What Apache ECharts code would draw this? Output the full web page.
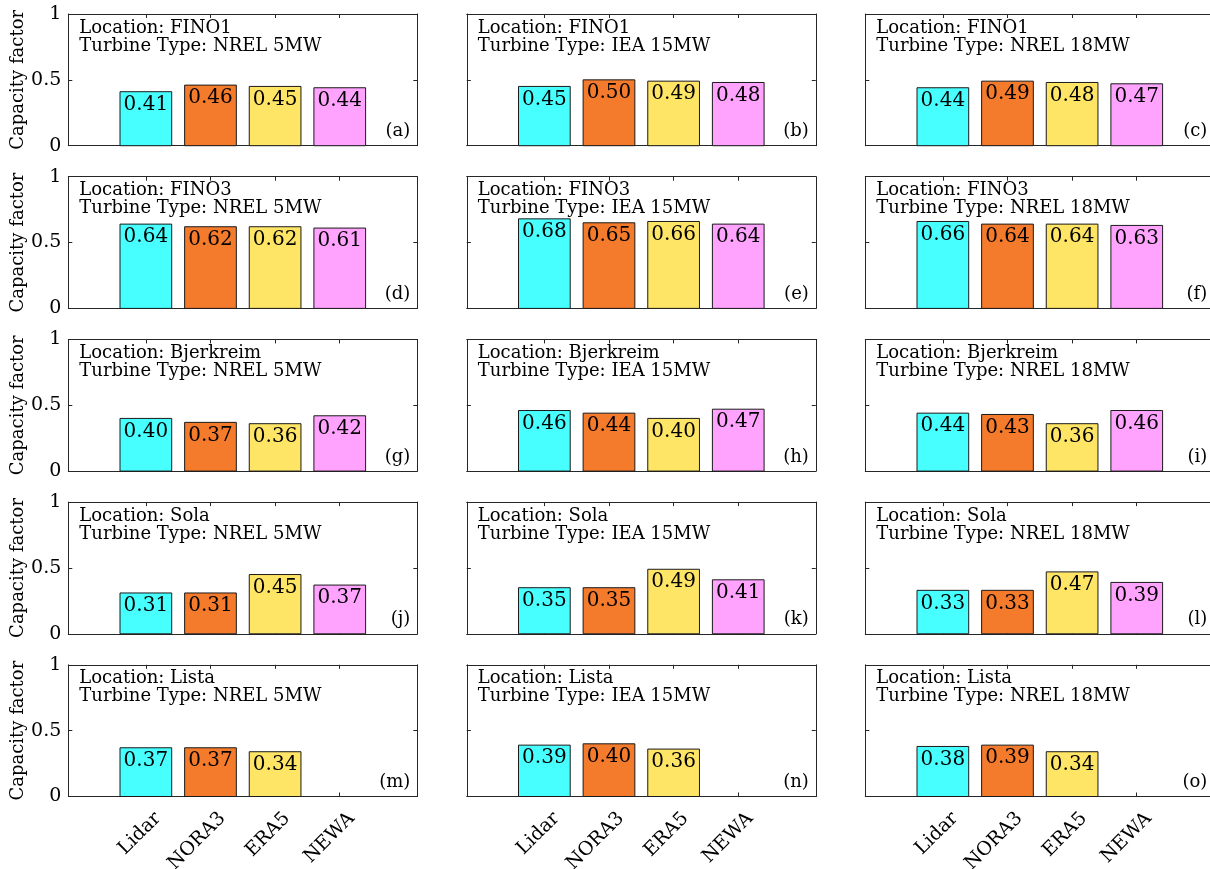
<!DOCTYPE html>
<html>
<head>
<meta charset="utf-8">
<script src="https://cdn.jsdelivr.net/npm/echarts@6/dist/echarts.min.js"></script>
<style>
html,body{margin:0;padding:0;background:#fff;}
#chart{width:1210px;height:869px;}
</style>
</head>
<body>
<div id="chart"></div>
<script>
const categories = ['Lidar', 'NORA3', 'ERA5', 'NEWA'];
const locations = ['FINO1', 'FINO3', 'Bjerkreim', 'Sola', 'Lista'];
const turbines = ['NREL 5MW', 'IEA 15MW', 'NREL 18MW'];
const panelLetters = ['a','b','c','d','e','f','g','h','i','j','k','l','m','n','o'];
const yTicks = [0, 0.5, 1];

// values per location: one row per turbine (NREL 5MW, IEA 15MW, NREL 18MW), columns = categories
const fino1Values = [
  [0.41, 0.46, 0.45, 0.44],
  [0.45, 0.50, 0.49, 0.48],
  [0.44, 0.49, 0.48, 0.47]
];
const fino3Values = [
  [0.64, 0.62, 0.62, 0.61],
  [0.68, 0.65, 0.66, 0.64],
  [0.66, 0.64, 0.64, 0.63]
];
const bjerkreimValues = [
  [0.40, 0.37, 0.36, 0.42],
  [0.46, 0.44, 0.40, 0.47],
  [0.44, 0.43, 0.36, 0.46]
];
const solaValues = [
  [0.31, 0.31, 0.45, 0.37],
  [0.35, 0.35, 0.49, 0.41],
  [0.33, 0.33, 0.47, 0.39]
];
const listaValues = [
  [0.37, 0.37, 0.34, null],
  [0.39, 0.40, 0.36, null],
  [0.38, 0.39, 0.34, null]
];
const allValues = [fino1Values, fino3Values, bjerkreimValues, solaValues, listaValues];

const barColors = ['#47FFFF', '#F47A2C', '#FFE566', '#FFA3FF'];
const FONT = 'DejaVu Serif';
const axisColor = '#262626';

const gridLeft0 = 68.3, colPitch = 398.5, gridW = 349;
const gridTop0 = 14, rowPitch = 162.7, gridH = 131.7;
const xMin = -0.2, xMax = 5.2;
const labelShift = 12 / (gridW / (xMax - xMin)); // rotated labels sit slightly right of their tick
const tickPositions = [1, 2, 3, 4];

const grids = [], xAxes = [], yAxes = [], series = [], graphics = [];
let gi = 0;
for (let r = 0; r < 5; r++) {
  for (let c = 0; c < 3; c++) {
    const left = gridLeft0 + c * colPitch;
    const top = gridTop0 + r * rowPitch;
    grids.push({left: left, top: top, width: gridW, height: gridH, containLabel: false, outerBoundsMode: 'none'});
    const isBottom = r === 4;
    const isLeft = c === 0;
    const xIdx = xAxes.length;
    const yIdx = yAxes.length;
    xAxes.push({
      type: 'value', gridIndex: gi, position: 'bottom', min: xMin, max: xMax,
      axisLine: {show: true, onZero: false, lineStyle: {color: axisColor, width: 1}},
      axisTick: {show: true, inside: true, length: 4, customValues: tickPositions, lineStyle: {color: axisColor}},
      axisLabel: {show: false},
      splitLine: {show: false}
    });
    xAxes.push({
      type: 'value', gridIndex: gi, position: 'top', min: xMin, max: xMax,
      axisLine: {show: true, onZero: false, lineStyle: {color: axisColor, width: 1}},
      axisTick: {show: true, inside: true, length: 4, customValues: tickPositions, lineStyle: {color: axisColor}},
      axisLabel: {show: false},
      splitLine: {show: false}
    });
    if (isBottom) {
      xAxes.push({
        type: 'value', gridIndex: gi, position: 'bottom', min: xMin - labelShift, max: xMax - labelShift,
        axisLine: {show: false}, axisTick: {show: false}, splitLine: {show: false},
        axisLabel: {show: true, customValues: tickPositions, rotate: 45, margin: 19,
          formatter: v => categories[Math.round(v) - 1] || '',
          fontFamily: FONT, fontSize: 19, color: '#000'}
      });
    }
    yAxes.push({
      type: 'value', gridIndex: gi, position: 'left', min: 0, max: 1, interval: 0.5,
      name: isLeft ? 'Capacity factor' : '', nameLocation: 'middle', nameGap: 40,
      nameTextStyle: {fontFamily: FONT, fontSize: 18, color: '#000'},
      axisLine: {show: true, onZero: false, lineStyle: {color: axisColor, width: 1}},
      axisTick: {show: true, inside: true, length: 4, lineStyle: {color: axisColor}},
      axisLabel: {show: isLeft, margin: 7, fontFamily: FONT, fontSize: 19, color: '#000',
        formatter: v => (v === 0 ? '0' : v === 1 ? '1' : String(v))},
      splitLine: {show: false}
    });
    yAxes.push({
      type: 'value', gridIndex: gi, position: 'right', min: 0, max: 1, interval: 0.5,
      axisLine: {show: true, onZero: false, lineStyle: {color: axisColor, width: 1}},
      axisTick: {show: true, inside: true, length: 4, lineStyle: {color: axisColor}},
      axisLabel: {show: false},
      splitLine: {show: false}
    });
    const vals = allValues[r][c];
    const data = [];
    vals.forEach((v, k) => { if (v !== null) data.push([k + 1, v, k]); });
    series.push({
      type: 'custom',
      xAxisIndex: xIdx, yAxisIndex: yIdx,
      data: data,
      renderItem: function (params, api) {
        const x = api.value(0), v = api.value(1), k = api.value(2);
        const p1 = api.coord([x - 0.4, v]);
        const p2 = api.coord([x + 0.4, 0]);
        const cx = api.coord([x, v])[0];
        return {
          type: 'group',
          children: [
            {type: 'rect', shape: {x: p1[0], y: p1[1], width: p2[0] - p1[0], height: p2[1] - p1[1]},
             style: {fill: barColors[k], stroke: '#1a1a1a', lineWidth: 1}},
            {type: 'text', style: {text: v.toFixed(2), x: cx, y: p1[1] + 3, align: 'center', verticalAlign: 'top',
              font: '20px "' + FONT + '"', fill: '#000'}}
          ]
        };
      }
    });
    graphics.push({type: 'text', left: left + 11, top: top + 5, z: 100,
      style: {text: 'Location: ' + locations[r] + '\nTurbine Type: ' + turbines[c],
        font: '18px "' + FONT + '"', fill: '#000', lineHeight: 18}});
    graphics.push({type: 'text', right: 1210 - (left + gridW - 7), top: top + gridH - 23, z: 100,
      style: {text: '(' + panelLetters[gi] + ')', font: '18px "' + FONT + '"', fill: '#000'}});
    gi++;
  }
}

const chart = echarts.init(document.getElementById('chart'), null, {renderer: 'canvas'});
chart.setOption({
  backgroundColor: '#fff',
  animation: false,
  grid: grids,
  xAxis: xAxes,
  yAxis: yAxes,
  series: series,
  graphic: graphics
});
</script>
</body>
</html>
